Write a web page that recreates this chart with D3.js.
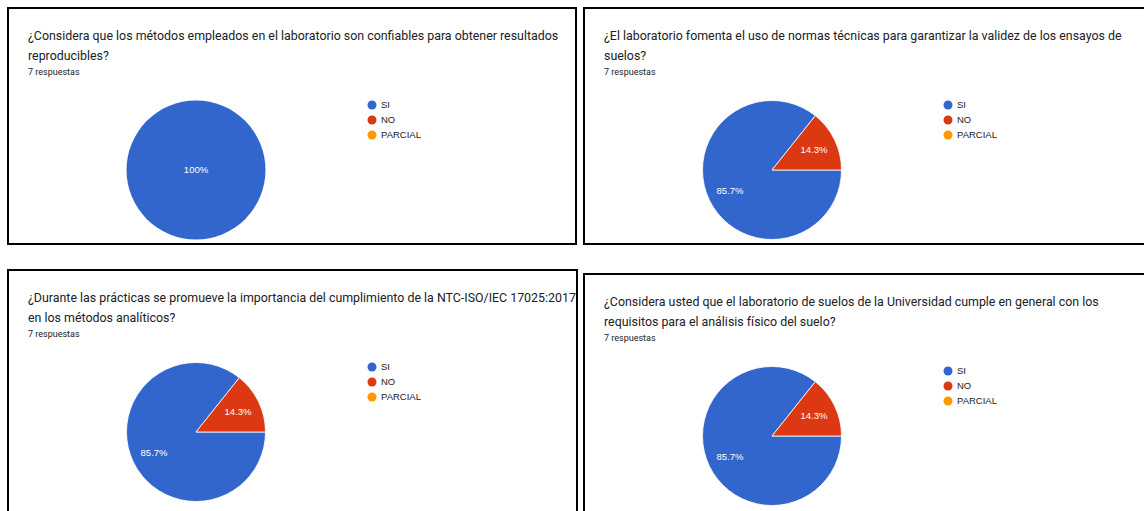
<!DOCTYPE html>
<html>
<head>
<meta charset="utf-8">
<script src="https://cdn.jsdelivr.net/npm/d3@7"></script>
<style>
  html, body { margin: 0; padding: 0; background: #fff; }
  svg { display: block; }
</style>
</head>
<body>
<svg id="chart" width="1144" height="511"></svg>
<script>
// Answer options shared by every question
const categories = ["SI", "NO", "PARCIAL"];
const categoryColors = ["#3366cc", "#dc3912", "#ff9900"];

// Question texts, already split into the two lines they are shown on
const q1Title = ["¿Considera que los métodos empleados en el laboratorio son confiables para obtener resultados", "reproducibles?"];
const q2Title = ["¿El laboratorio fomenta el uso de normas técnicas para garantizar la validez de los ensayos de", "suelos?"];
const q3Title = ["¿Durante las prácticas se promueve la importancia del cumplimiento de la NTC-ISO/IEC 17025:2017", "en los métodos analíticos?"];
const q4Title = ["¿Considera usted que el laboratorio de suelos de la Universidad cumple en general con los", "requisitos para el análisis físico del suelo?"];

// Number of responses for SI / NO / PARCIAL
const q1Counts = [7, 0, 0];
const q2Counts = [6, 1, 0];
const q3Counts = [6, 1, 0];
const q4Counts = [6, 1, 0];

const responseLabel = "7 respuestas";

// Card placement on the page
const cards = [
  { title: q1Title, counts: q1Counts, x: 8,   y: 8,   w: 568, h: 236 },
  { title: q2Title, counts: q2Counts, x: 584, y: 8,   w: 580, h: 236 },
  { title: q3Title, counts: q3Counts, x: 8,   y: 270, w: 569, h: 260 },
  { title: q4Title, counts: q4Counts, x: 584, y: 274, w: 580, h: 260 }
];

const svg = d3.select("#chart");
const pct = d3.format(".3~p");
const color = d3.scaleOrdinal().domain(categories).range(categoryColors);

// Pie starts at 3 o'clock and runs clockwise, as in Google Forms summaries
const pie = d3.pie()
  .sort(null)
  .value(d => d.value)
  .startAngle(Math.PI / 2)
  .endAngle(Math.PI / 2 + 2 * Math.PI);

const radius = 69.5;
const arc = d3.arc().innerRadius(0).outerRadius(radius);
const labelArc = d3.arc().innerRadius(radius * 0.67).outerRadius(radius * 0.67);

cards.forEach(card => {
  const g = svg.append("g").attr("transform", `translate(${card.x},${card.y})`);

  g.append("rect")
    .attr("x", 0).attr("y", 0)
    .attr("width", card.w).attr("height", card.h)
    .attr("fill", "#fff")
    .attr("stroke", "#000")
    .attr("stroke-width", 2);

  // Question title
  const title = g.append("text")
    .attr("x", 20)
    .attr("font-family", "Roboto, sans-serif")
    .attr("font-size", 12.4)
    .attr("fill", "#202124");
  card.title.forEach((line, i) => {
    title.append("tspan")
      .attr("x", 20)
      .attr("y", 32 + i * 20)
      .text(line);
  });

  g.append("text")
    .attr("x", 20).attr("y", 67)
    .attr("font-family", "Roboto, sans-serif")
    .attr("font-size", 9)
    .attr("fill", "#202124")
    .text(responseLabel);

  const total = d3.sum(card.counts);
  const data = categories.map((c, i) => ({ key: c, value: card.counts[i] }));
  const arcs = pie(data).filter(d => d.data.value > 0);

  const pieG = g.append("g").attr("transform", `translate(188,162)`);

  pieG.selectAll("path")
    .data(arcs)
    .join("path")
    .attr("d", arc)
    .attr("fill", d => color(d.data.key))
    .attr("stroke", "#fff")
    .attr("stroke-width", arcs.length > 1 ? 0.8 : 0);

  pieG.selectAll("text")
    .data(arcs)
    .join("text")
    .attr("transform", d => arcs.length > 1 ? `translate(${labelArc.centroid(d)})` : null)
    .attr("text-anchor", "middle")
    .attr("dy", "0.35em")
    .attr("font-family", "'Liberation Sans', Arial, sans-serif")
    .attr("font-size", 9.5)
    .attr("fill", "#fff")
    .text(d => pct(d.data.value / total));

  // Legend
  const legend = g.append("g").attr("transform", "translate(364,97)");
  const items = legend.selectAll("g")
    .data(categories)
    .join("g")
    .attr("transform", (d, i) => `translate(0,${i * 15})`);
  items.append("circle")
    .attr("cx", 0).attr("cy", 0).attr("r", 4.5)
    .attr("fill", d => color(d));
  items.append("text")
    .attr("x", 9).attr("dy", "0.35em")
    .attr("font-family", "'Liberation Sans', Arial, sans-serif")
    .attr("font-size", 9.5)
    .attr("fill", "#222")
    .text(d => d);
});
</script>
</body>
</html>
